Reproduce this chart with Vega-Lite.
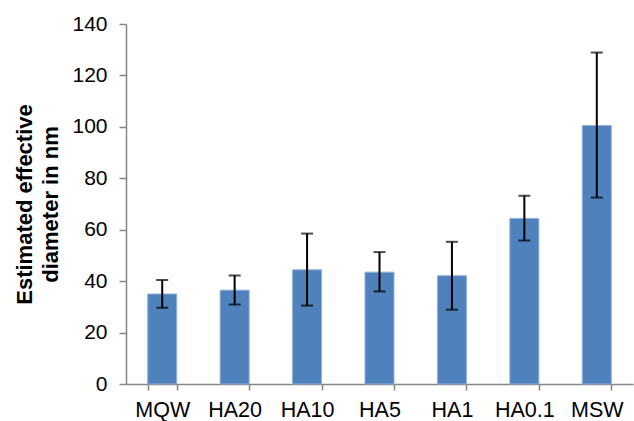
{
  "$schema": "https://vega.github.io/schema/vega-lite/v6.json",
  "autosize": "none",
  "width": 507,
  "height": 360,
  "padding": {"left": 126, "top": 24, "right": 1, "bottom": 37},
  "background": "white",
  "config": {
    "view": {"stroke": null},
    "font": "Liberation Sans",
    "axis": {"labelFont": "Liberation Sans", "titleFont": "Liberation Sans", "labelColor": "#000000", "titleColor": "#000000", "domainColor": "#868686", "tickColor": "#868686", "domainWidth": 1.5, "tickWidth": 1.5}
  },
  "data": {
    "values": [
      {"sample": "MQW", "value": 35.0, "lo": 29.7, "hi": 40.4},
      {"sample": "HA20", "value": 36.5, "lo": 30.9, "hi": 42.2},
      {"sample": "HA10", "value": 44.4, "lo": 30.5, "hi": 58.5},
      {"sample": "HA5", "value": 43.5, "lo": 36.0, "hi": 51.3},
      {"sample": "HA1", "value": 42.1, "lo": 28.9, "hi": 55.3},
      {"sample": "HA0.1", "value": 64.4, "lo": 55.8, "hi": 73.2},
      {"sample": "MSW", "value": 100.5, "lo": 72.5, "hi": 128.9}
    ]
  },
  "encoding": {
    "x": {
      "field": "sample", "type": "nominal", "sort": null,
      "scale": {"paddingInner": 0.6, "paddingOuter": 0.3},
      "axis": {"title": null, "labelAngle": 0, "labelFontSize": 21.5, "tickSize": 6, "tickBand": "extent", "labelPadding": 9, "grid": false}
    }
  },
  "layer": [
    {
      "mark": {"type": "bar", "color": "#4F81BD", "stroke": "#8FAEDA", "strokeWidth": 1},
      "encoding": {
        "y": {
          "field": "value", "type": "quantitative",
          "scale": {"domain": [0, 140]},
          "axis": {"title": ["Estimated effective", "diameter in nm"], "titleFontSize": 22, "titleFontWeight": "bold", "titleLineHeight": 26, "titlePadding": 9, "values": [0, 20, 40, 60, 80, 100, 120, 140], "labelFontSize": 21, "tickSize": 7, "labelPadding": 12, "grid": false}
        }
      }
    },
    {
      "mark": {"type": "rule", "color": "black", "strokeWidth": 2},
      "encoding": {"y": {"field": "lo", "type": "quantitative"}, "y2": {"field": "hi"}}
    },
    {
      "mark": {"type": "tick", "color": "black", "thickness": 2, "size": 12},
      "encoding": {"y": {"field": "lo", "type": "quantitative"}}
    },
    {
      "mark": {"type": "tick", "color": "black", "thickness": 2, "size": 12},
      "encoding": {"y": {"field": "hi", "type": "quantitative"}}
    }
  ]
}
